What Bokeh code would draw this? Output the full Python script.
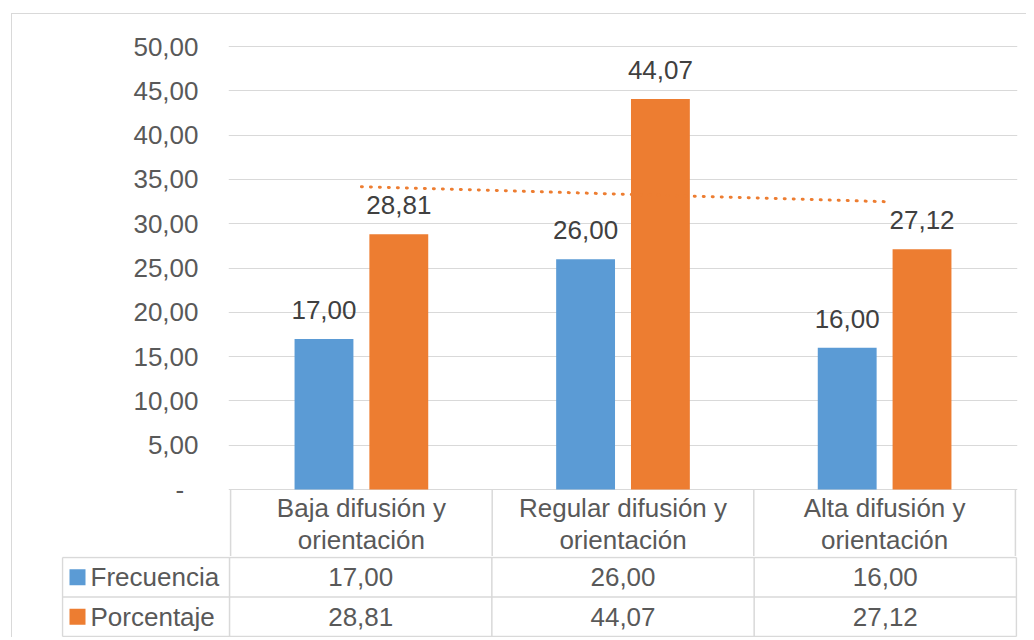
import numpy as np
from bokeh.plotting import figure
from bokeh.models import FactorRange, Range1d, FixedTicker, ColumnDataSource
from bokeh.transform import dodge
from bokeh.layouts import column
from bokeh.embed import file_html
from bokeh.resources import INLINE
from bokeh.core.properties import value

# ---------------- data ----------------
categories = ["Baja difusión y orientación",
              "Regular difusión y orientación",
              "Alta difusión y orientación"]
series_names = ["Frecuencia", "Porcentaje"]
frecuencia = [17.00, 26.00, 16.00]
porcentaje = [28.81, 44.07, 27.12]
y_ticks = [0, 5, 10, 15, 20, 25, 30, 35, 40, 45, 50]
y_tick_labels = ["-\u00a0\u00a0", "5,00", "10,00", "15,00", "20,00", "25,00",
                 "30,00", "35,00", "40,00", "45,00", "50,00"]

# ---------------- style ----------------
BLUE = "#5B9BD5"
ORANGE = "#ED7D31"
GRID = "#D9D9D9"
TXT = "#595959"
LBL = "#404040"
FONT = "Liberation Sans"
FS = "26px"


def fmt(v):
    return f"{v:.2f}".replace(".", ",")


src = ColumnDataSource(dict(
    cat=categories,
    frec=frecuencia,
    porc=porcentaje,
    frec_lbl=[fmt(v) for v in frecuencia],
    porc_lbl=[fmt(v) for v in porcentaje],
    head=[c.replace(" y ", " y\n") for c in categories],
))

# ---------------- layout constants ----------------
W = 1014
A_H = 542
B_H = 81
A_LEFT, A_RIGHT, A_TOP = 216, 9, 29
PAD = 0.004
xr = FactorRange(factors=categories, range_padding=2 * PAD, range_padding_units="absolute")
frame_w = W - A_LEFT - A_RIGHT
KX = frame_w / (len(categories) + 2 * PAD)
KY = 8.86
y0 = -(A_H - (489 - 14)) / KY
y1 = y0 + (A_H - A_TOP) / KY

pa = figure(width=W, height=A_H, x_range=xr, y_range=Range1d(y0, y1),
            output_backend="svg", toolbar_location=None, x_axis_type=None,
            min_border_left=A_LEFT, min_border_right=A_RIGHT,
            min_border_top=A_TOP, min_border_bottom=0)
pa.frame_align = False
pa.outline_line_color = None
pa.background_fill_color = "white"
pa.border_fill_color = "white"
pa.xgrid.grid_line_color = None
pa.ygrid.grid_line_color = GRID
pa.ygrid.grid_line_width = 1

ax = pa.yaxis[0]
ax.ticker = FixedTicker(ticks=y_ticks)
ax.major_label_overrides = {t: l for t, l in zip(y_ticks, y_tick_labels)}
ax.axis_line_color = None
ax.major_tick_line_color = None
ax.minor_tick_line_color = None
ax.major_tick_out = 0
ax.major_tick_in = 0
ax.major_label_standoff = 30
ax.major_label_text_font = FONT
ax.major_label_text_font_size = FS
ax.major_label_text_color = TXT

OFF = 0.143
BW = 0.225
pa.vbar(x=dodge("cat", -OFF, range=xr), top="frec", width=BW, source=src,
        fill_color=BLUE, line_color=None)
pa.vbar(x=dodge("cat", OFF, range=xr), top="porc", width=BW, source=src,
        fill_color=ORANGE, line_color=None)

for col, lab, off in (("frec", "frec_lbl", -OFF), ("porc", "porc_lbl", OFF)):
    pa.text(x=dodge("cat", off, range=xr), y=col, text=lab, source=src,
            text_align="center", text_baseline="alphabetic", y_offset=-29,
            text_font=value(FONT), text_font_size=value(FS), text_color=LBL)

# linear trendline of Porcentaje (as Excel does)
fit = np.polyfit(np.arange(1, len(porcentaje) + 1), porcentaje, 1)
trend_y = np.polyval(fit, [1, len(porcentaje)])
pa.line(x=[categories[0], categories[-1]], y=list(trend_y), line_color=ORANGE,
        line_width=3, line_dash="1 8", line_cap="round")

# header row of the data table
nb = len(categories)
pa.segment(x0=list(range(nb + 1)), y0=[0] * (nb + 1), x1=list(range(nb + 1)),
           y1=[y0] * (nb + 1), line_color=GRID, line_width=1.5)
pa.text(x="cat", y=-3.89, text="head", source=src, text_align="center",
        text_baseline="middle", text_font=value(FONT), text_font_size=value(FS),
        text_color=TXT, text_line_height=1.04)

# ---------------- data table rows ----------------
B_LEFT = 49
x0_fig = A_LEFT + PAD * KX
xb0 = -(x0_fig - B_LEFT) / KX
xb1 = xb0 + (W - B_LEFT - A_RIGHT) / KX
KYB = 39.5
yb0 = -1 / KYB
yb1 = 2 + 1 / KYB


def px_x(px_page):
    return (px_page - 12 - x0_fig) / KX


pb = figure(width=W, height=B_H, x_range=Range1d(xb0, xb1), y_range=Range1d(yb0, yb1),
            output_backend="svg", toolbar_location=None, x_axis_type=None,
            y_axis_type=None, min_border_left=B_LEFT, min_border_right=A_RIGHT,
            min_border_top=0, min_border_bottom=0)
pb.frame_align = False
pb.outline_line_color = None
pb.background_fill_color = "white"
pb.border_fill_color = "white"
pb.grid.visible = False

leg_left = px_x(62)
pb.segment(x0=[leg_left] * 3, y0=[2, 1, 0], x1=[nb] * 3, y1=[2, 1, 0],
           line_color=GRID, line_width=1.5)
vx = [leg_left] + list(range(nb + 1))
pb.segment(x0=vx, y0=[0] * len(vx), x1=vx, y1=[2] * len(vx),
           line_color=GRID, line_width=1.5)

cx = list(np.arange(nb) + 0.5)
pb.text(x=cx, y=[1.5] * nb, text=[fmt(v) for v in frecuencia], text_align="center",
        text_baseline="middle", text_font=value(FONT), text_font_size=value(FS),
        text_color=TXT)
pb.text(x=cx, y=[0.5] * nb, text=[fmt(v) for v in porcentaje], text_align="center",
        text_baseline="middle", text_font=value(FONT), text_font_size=value(FS),
        text_color=TXT)

pb.scatter(x=[px_x(77)] * 2, y=[1.5, 0.5], marker="square", size=16,
           fill_color=[BLUE, ORANGE], line_color=None)
pb.text(x=[px_x(90)] * 2, y=[1.5, 0.5], text=series_names, text_align="left",
        text_baseline="middle", text_font=value(FONT), text_font_size=value(FS),
        text_color=TXT)

layout = column(pa, pb, margin=(13, 0, 0, 11),
                styles={"border-left": f"1px solid {GRID}",
                        "border-top": f"1px solid {GRID}"})

open("out.html", "w").write(file_html(layout, INLINE))
